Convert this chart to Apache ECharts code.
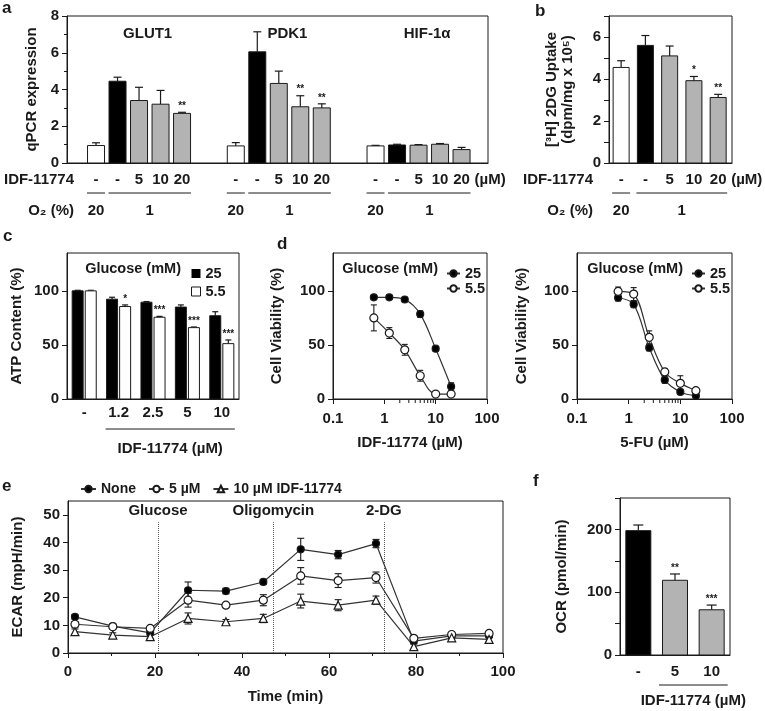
<!DOCTYPE html>
<html>
<head>
<meta charset="utf-8">
<title>IDF-11774 panels</title>
<script src="https://cdn.jsdelivr.net/npm/echarts@6.0.0/dist/echarts.min.js"></script>
<style>
  html, body { margin: 0; padding: 0; background: #fff; }
  #chart { width: 765px; height: 711px; }
</style>
</head>
<body>
<div id="chart"></div>
<script>
// ---- a: qPCR expression ----
const aGenes = ['GLUT1', 'PDK1', 'HIF-1α'];
const aDoses = ['-', '-', '5', '10', '20'];
const glut1Mean = [0.95, 4.45, 3.4, 3.2, 2.7];
const glut1Err = [0.15, 0.22, 0.72, 0.75, 0.06];
const glut1Sig = ['', '', '', '', '**'];
const pdk1Mean = [0.93, 6.05, 4.33, 3.06, 3.0];
const pdk1Err = [0.18, 1.09, 0.67, 0.6, 0.22];
const pdk1Sig = ['', '', '', '**', '**'];
const hifMean = [0.93, 0.98, 0.97, 1.02, 0.73];
const hifErr = [0.03, 0.04, 0.03, 0.04, 0.12];
const hifSig = ['', '', '', '', ''];

// ---- b: 2DG uptake ----
const bDoses = ['-', '-', '5', '10', '20'];
const bMean = [4.55, 5.6, 5.1, 3.92, 3.12];
const bErr = [0.32, 0.47, 0.47, 0.2, 0.15];
const bSig = ['', '', '', '*', '**'];

// O2 rows (a and b)
const o2Single = '20';
const o2Group = '1';

// ---- c: ATP content ----
const cDoses = ['-', '1.2', '2.5', '5', '10'];
const c25Mean = [100, 92.3, 89.5, 85, 77];
const c25Err = [0.5, 1.8, 0.6, 2, 3.7];
const c55Mean = [100, 85.5, 75.6, 66, 51.2];
const c55Err = [0.5, 1.5, 0.8, 0.6, 3.4];
const c55Sig = ['', '*', '***', '***', '***'];

// ---- d: cell viability ----
const dConc = [0.625, 1.25, 2.5, 5, 10, 20];
const dIdf25 = [94, 94, 92, 78.5, 46.5, 11.5];
const dIdf25Err = [2, 2, 2, 3, 2, 3.5];
const dIdf55 = [75, 61, 45.5, 21.5, 4.6, 4.6];
const dIdf55Err = [12, 5, 5, 5, 1, 1];
const dFu25 = [93.6, 87.5, 47.5, 17.6, 6.5, 3];
const dFu25Err = [3, 3, 3, 3, 2, 1];
const dFu55 = [99.5, 97, 57, 25, 14.5, 7.7];
const dFu55Err = [4, 6, 6, 3, 7, 2];
const logMinor = [2, 3, 4, 5, 6, 7, 8, 9];

// ---- e: ECAR ----
const eTime = [1.6, 10.3, 18.9, 27.6, 36.3, 44.9, 53.5, 62.1, 70.8, 79.5, 88.2, 96.8];
const eNone = [13.1, 9.7, 7.3, 22.7, 22.4, 25.7, 37.5, 35.6, 39.6, 4.3, 6.2, 6.2];
const eNoneErr = [0.8, 0.8, 0.8, 3, 1, 0.8, 4, 1.5, 1.5, 1, 0.5, 0.5];
const e5 = [10.4, 9.5, 8.9, 19.1, 17.3, 19.1, 27.9, 26.2, 27.3, 5.3, 6.7, 7.1];
const e5Err = [1, 0.8, 0.5, 2.5, 0.8, 2, 3, 2.5, 2, 0.8, 0.5, 0.5];
const e10 = [7.7, 6.5, 5.9, 12.5, 11.3, 12.5, 18.8, 17.3, 19.1, 2.3, 5.5, 4.9];
const e10Err = [1, 0.8, 0.6, 2, 0.8, 1.5, 2.5, 2, 1.5, 1, 0.5, 0.8];
const eInject = ['Glucose', 'Oligomycin', '2-DG'];
const eInjectTime = [20.7, 47.2, 72.6];

// ---- f: OCR ----
const fDoses = ['-', '5', '10'];
const fMean = [198, 119, 72];
const fErr = [9, 10, 7.5];
const fSig = ['', '**', '***'];

// ---- styles ----
const FONT = '"Liberation Sans", Arial, sans-serif';
const INK = '#1a1a1a';
const LINE = '#333';
const GREY = '#b3b3b3';
const F15 = 'bold 15px ' + FONT;
const F14 = 'bold 14.5px ' + FONT;
const txt = { color: INK, fontSize: 15, fontWeight: 'bold', fontFamily: FONT };
const treatFill = ['#fff', '#000', GREY, GREY, GREY];

// bar slots in panel a: 5 bars per gene, 6.5 slots between gene groups
const aPitch = 6.5;
const aX = [], aMeans = [], aErrs = [], aSigs = [], aFills = [], aDoseTxt = [];
[[glut1Mean, glut1Err, glut1Sig], [pdk1Mean, pdk1Err, pdk1Sig], [hifMean, hifErr, hifSig]].forEach((g, gi) => {
  g[0].forEach((v, i) => {
    aX.push(gi * aPitch + i);
    aMeans.push(v); aErrs.push(g[1][i]); aSigs.push(g[2][i]);
    aFills.push(treatFill[i]); aDoseTxt.push(aDoses[i]);
  });
});
const aSpans = [];
aGenes.forEach((g, gi) => {
  aSpans.push([gi * aPitch, gi * aPitch, o2Single]);
  aSpans.push([gi * aPitch + 1, gi * aPitch + 4, o2Group]);
});
const idx5 = [0, 1, 2, 3, 4];

// ---- series helpers ----
function upBars(axis, name, xs, means, errs, fills, sigs, barW, capW) {
  return {
    type: 'custom', name, xAxisIndex: axis, yAxisIndex: axis, clip: false, z: 3,
    data: xs.map((x, i) => [x, means[i], errs[i]]),
    renderItem(p, api) {
      const i = p.dataIndex;
      const x = api.value(0), m = api.value(1), e = api.value(2);
      const base = api.coord([x, 0]), top = api.coord([x, m]), hi = api.coord([x, m + e]);
      const fill = Array.isArray(fills) ? fills[i] : fills;
      return { type: 'group', children: [
        { type: 'line', shape: { x1: top[0], y1: top[1], x2: hi[0], y2: hi[1] }, style: { stroke: INK, lineWidth: 1.2 } },
        { type: 'line', shape: { x1: hi[0] - capW, y1: hi[1], x2: hi[0] + capW, y2: hi[1] }, style: { stroke: INK, lineWidth: 1.2 } },
        { type: 'rect', shape: { x: base[0] - barW / 2, y: top[1], width: barW, height: base[1] - top[1] }, style: { fill, stroke: INK, lineWidth: 1 } },
        { type: 'text', x: hi[0], y: hi[1] - 1, style: { text: sigs ? sigs[i] : '', fill: INK, font: 'bold 10px ' + FONT, align: 'center', verticalAlign: 'bottom' } }
      ] };
    }
  };
}

function errBars(axis, xs, ys, errs, capW) {
  return {
    type: 'custom', xAxisIndex: axis, yAxisIndex: axis, clip: false, silent: true, z: 2,
    data: xs.map((x, i) => [x, ys[i], errs[i]]),
    renderItem(p, api) {
      const x = api.value(0), y = api.value(1), e = api.value(2);
      const lo = api.coord([x, y - e]), hi = api.coord([x, y + e]);
      const st = { stroke: INK, lineWidth: 1.1 };
      return { type: 'group', children: [
        { type: 'line', shape: { x1: lo[0], y1: lo[1], x2: hi[0], y2: hi[1] }, style: st },
        { type: 'line', shape: { x1: lo[0] - capW, y1: lo[1], x2: lo[0] + capW, y2: lo[1] }, style: st },
        { type: 'line', shape: { x1: hi[0] - capW, y1: hi[1], x2: hi[0] + capW, y2: hi[1] }, style: st }
      ] };
    }
  };
}

function curve(axis, name, xs, ys, symbol, size, fill, smooth) {
  return {
    type: 'line', name, xAxisIndex: axis, yAxisIndex: axis, z: 4, smooth,
    data: xs.map((x, i) => [x, ys[i]]),
    symbol, symbolSize: size, showAllSymbol: true,
    lineStyle: { color: LINE, width: 1.2 },
    itemStyle: { color: fill, borderColor: INK, borderWidth: 1.2 }
  };
}

// text placed at data points, shifted in px
function textAt(axis, pts, texts, dx, dy, align, font) {
  return {
    type: 'custom', xAxisIndex: axis, yAxisIndex: axis, clip: false, silent: true, z: 5,
    data: pts,
    renderItem(p, api) {
      const c = api.coord([api.value(0), api.value(1)]);
      return { type: 'text', x: c[0] + dx, y: c[1] + dy,
        style: { text: texts[p.dataIndex], fill: INK, font: font || F15, align: align || 'center', verticalAlign: 'middle' } };
    }
  };
}

// underline below a run of bars with a caption under it
function spans(axis, list, lineDy, textDy, ext) {
  return {
    type: 'custom', xAxisIndex: axis, yAxisIndex: axis, clip: false, silent: true, z: 5,
    data: list.map(s => [s[0], s[1]]),
    renderItem(p, api) {
      const a = api.coord([api.value(0), 0]), b = api.coord([api.value(1), 0]);
      return { type: 'group', children: [
        { type: 'line', shape: { x1: a[0] - ext, y1: a[1] + lineDy, x2: b[0] + ext, y2: a[1] + lineDy }, style: { stroke: INK, lineWidth: 1 } },
        { type: 'text', x: (a[0] + b[0]) / 2, y: a[1] + textDy,
          style: { text: list[p.dataIndex][2], fill: INK, font: F15, align: 'center', verticalAlign: 'middle' } }
      ] };
    }
  };
}

function minorTicks(axis, vals) {
  return {
    type: 'custom', xAxisIndex: axis, yAxisIndex: axis, clip: false, silent: true,
    data: vals.map(v => [v, 0]),
    renderItem(p, api) {
      const c = api.coord([api.value(0), 0]);
      return { type: 'line', shape: { x1: c[0], y1: c[1], x2: c[0], y2: c[1] + 4 }, style: { stroke: INK, lineWidth: 1 } };
    }
  };
}

// ---- axes ----
function xHidden(grid, min, max) {
  return { type: 'value', gridIndex: grid, min, max,
    axisLine: { show: true, onZero: false, lineStyle: { color: INK } },
    axisTick: { show: false }, axisLabel: { show: false }, splitLine: { show: false } };
}
function xLog(grid, name) {
  return { type: 'log', gridIndex: grid, logBase: 10, min: 0.1, max: 100,
    name, nameLocation: 'middle', nameGap: 36, nameTextStyle: txt,
    axisLine: { show: true, onZero: false, lineStyle: { color: INK } },
    axisTick: { show: true, length: 5, lineStyle: { color: INK } },
    axisLabel: { ...txt, margin: 12, formatter: v => String(+(+v).toPrecision(2)) },
    splitLine: { show: false } };
}
function yBase(grid, name, gap) {
  return { type: 'value', gridIndex: grid, name, nameLocation: 'middle', nameGap: gap,
    nameTextStyle: { ...txt, lineHeight: 16 },
    axisLine: { show: true, onZero: false, lineStyle: { color: INK } },
    axisTick: { show: true, length: 5, lineStyle: { color: INK } },
    axisLabel: { ...txt, margin: 8 },
    splitLine: { show: false } };
}

const yA = yBase(0, 'qPCR expression', 26);
Object.assign(yA, { min: 0, max: 8, interval: 2, minorTick: { show: true, splitNumber: 2, length: 3, lineStyle: { color: INK } } });
const yB = yBase(1, '[³H] 2DG Uptake\n(dpm/mg x 10⁵)', 33);
Object.assign(yB, { min: 0, max: 7, interval: 1 });
yB.axisLabel.formatter = v => (v % 2 === 0 ? String(v) : '');
const yC = yBase(2, 'ATP Content (%)', 42);
Object.assign(yC, { min: 0, max: 135 });
yC.axisLabel.customValues = [0, 50, 100]; yC.axisTick.customValues = [0, 50, 100];
const yD1 = yBase(3, 'Cell Viability (%)', 48);
Object.assign(yD1, { min: 0, max: 135 });
yD1.axisLabel.customValues = [0, 50, 100]; yD1.axisTick.customValues = [0, 50, 100];
const yD2 = yBase(4, 'Cell Viability (%)', 47);
Object.assign(yD2, { min: 0, max: 135 });
yD2.axisLabel.customValues = [0, 50, 100]; yD2.axisTick.customValues = [0, 50, 100];
const yE = yBase(5, 'ECAR (mpH/min)', 42);
Object.assign(yE, { min: 0, max: 55 });
yE.axisLabel.customValues = [0, 10, 20, 30, 40, 50]; yE.axisTick.customValues = [0, 10, 20, 30, 40, 50];
const yF = yBase(6, 'OCR (pmol/min)', 50);
Object.assign(yF, { min: 0, max: 250, interval: 50 });
yF.axisLabel.formatter = v => (v % 100 === 0 && v < 250 ? String(v) : '');

const xE = { type: 'value', gridIndex: 5, min: 0, max: 100, interval: 20,
  name: 'Time (min)', nameLocation: 'middle', nameGap: 36, nameTextStyle: txt,
  axisLine: { show: true, onZero: false, lineStyle: { color: INK } },
  axisTick: { show: true, length: 5, lineStyle: { color: INK } },
  minorTick: { show: true, splitNumber: 2, length: 3, lineStyle: { color: INK } },
  axisLabel: { ...txt, margin: 11 }, splitLine: { show: false } };

const box = { show: true, borderColor: INK, borderWidth: 1, containLabel: false };
const legendTxt = { ...txt, fontSize: 14.5 };
const eLegendTxt = { ...txt, fontSize: 14 };
const tag = n => n.split('|').pop();

const option = {
  animation: false,
  backgroundColor: '#fff',
  grid: [
    { ...box, left: 67, top: 16, width: 421, height: 147 },
    { ...box, left: 609, top: 16, width: 123, height: 147 },
    { ...box, left: 67, top: 253, width: 172, height: 146 },
    { ...box, left: 333, top: 253, width: 154, height: 146 },
    { ...box, left: 577, top: 253, width: 155, height: 146 },
    { ...box, left: 68, top: 501, width: 435, height: 152 },
    { ...box, left: 620, top: 498, width: 110, height: 157 }
  ],
  xAxis: [
    xHidden(0, -1.35, 18.23),
    xHidden(1, -0.5, 4.57),
    xHidden(2, -0.5, 4.5),
    xLog(3, 'IDF-11774 (µM)'),
    xLog(4, '5-FU (µM)'),
    xE,
    xHidden(6, -0.5, 2.5)
  ],
  yAxis: [yA, yB, yC, yD1, yD2, yE, yF],
  legend: [
    { data: [{ name: 'c|25', icon: 'rect', itemStyle: { color: '#000' } },
             { name: 'c|5.5', icon: 'rect', itemStyle: { color: '#fff', borderColor: INK, borderWidth: 1 } }],
      orient: 'vertical', left: 186, top: 261, itemWidth: 9, itemHeight: 9, itemGap: 3,
      formatter: tag, textStyle: legendTxt, selectedMode: false },
    { data: ['l|25', 'l|5.5'], orient: 'vertical', left: 441, top: 261, itemWidth: 13, itemHeight: 8, itemGap: 0,
      formatter: tag, textStyle: legendTxt, selectedMode: false },
    { data: ['r|25', 'r|5.5'], orient: 'vertical', left: 686, top: 261, itemWidth: 13, itemHeight: 8, itemGap: 0,
      formatter: tag, textStyle: legendTxt, selectedMode: false },
    { data: ['None', '5 µM', '10 µM IDF-11774'], left: 75, top: 477, itemWidth: 15, itemHeight: 8, itemGap: 12,
      textStyle: eLegendTxt, selectedMode: false }
  ],
  graphic: [
    ['a', 2, 9], ['b', 535, 12], ['c', 3, 237], ['d', 277, 245], ['e', 2, 487], ['f', 533, 482]
  ].map(l => ({ type: 'text', left: l[1], top: l[2] - 9, style: { text: l[0], font: 'bold 17px ' + FONT, fill: INK } }))
  .concat([
    [74, 180, 'IDF-11774', F15], [74, 211, 'O₂ (%)', F15], [593, 180, 'IDF-11774', F15], [593, 211, 'O₂ (%)', F15],
    [181, 269, 'Glucose (mM)', F14], [438, 269, 'Glucose (mM)', F14], [683, 269, 'Glucose (mM)', F14]
  ].map(t => ({ type: 'text', x: t[0], y: t[1], style: { text: t[2], font: t[3], fill: INK, align: 'right', verticalAlign: 'middle' } }))),
  series: [
    // a
    upBars(0, 'a', aX, aMeans, aErrs, aFills, aSigs, 17, 4),
    textAt(0, aX.map(x => [x, 0]), aDoseTxt, 0, 17),
    textAt(0, [[aX[aX.length - 1], 0]], ['(µM)'], 13, 17, 'left'),
    textAt(0, aGenes.map((g, gi) => [gi * aPitch + 2.4, 7.05]), aGenes, 0, 0),
    spans(0, aSpans, 30, 48, 9),
    // b
    upBars(1, 'b', idx5, bMean, bErr, treatFill, bSig, 16, 4),
    textAt(1, idx5.map(x => [x, 0]), bDoses, 0, 17),
    textAt(1, [[4, 0]], ['(µM)'], 13, 17, 'left'),
    spans(1, [[0, 0, o2Single], [1, 4, o2Group]], 30, 48, 9),
    // c
    upBars(2, 'c|25', idx5.map(i => i - 0.19), c25Mean, c25Err, '#000', null, 11, 3),
    upBars(2, 'c|5.5', idx5.map(i => i + 0.19), c55Mean, c55Err, '#fff', c55Sig, 11, 3),
    textAt(2, idx5.map(x => [x, 0]), cDoses, 0, 14),
    spans(2, [[1, 4, 'IDF-11774 (µM)']], 30, 50, 13),
    // d left
    minorTicks(3, logMinor),
    errBars(3, dConc, dIdf25, dIdf25Err, 3),
    errBars(3, dConc, dIdf55, dIdf55Err, 3),
    curve(3, 'l|25', dConc, dIdf25, 'circle', 7, '#000', 0.35),
    curve(3, 'l|5.5', dConc, dIdf55, 'circle', 8, '#fff', 0.35),
    // d right
    minorTicks(4, logMinor),
    errBars(4, dConc, dFu25, dFu25Err, 3),
    errBars(4, dConc, dFu55, dFu55Err, 3),
    curve(4, 'r|25', dConc, dFu25, 'circle', 7, '#000', 0.35),
    curve(4, 'r|5.5', dConc, dFu55, 'circle', 8, '#fff', 0.35),
    // e
    errBars(5, eTime, eNone, eNoneErr, 3.5),
    errBars(5, eTime, e5, e5Err, 3.5),
    errBars(5, eTime, e10, e10Err, 3.5),
    Object.assign(curve(5, 'None', eTime, eNone, 'circle', 7, '#000', false), {
      markLine: {
        silent: true, symbol: 'none',
        lineStyle: { type: 'dotted', color: '#555', width: 1 },
        label: { show: true, position: 'end', formatter: '{b}', distance: 4, ...txt },
        data: eInjectTime.map((t, i) => [{ name: eInject[i], coord: [t, 0] }, { coord: [t, 47.3] }])
      }
    }),
    curve(5, '5 µM', eTime, e5, 'circle', 8, '#fff', false),
    curve(5, '10 µM IDF-11774', eTime, e10, 'triangle', 8, '#fff', false),
    // f
    upBars(6, 'f', [0, 1, 2], fMean, fErr, ['#000', GREY, GREY], fSig, 25, 5),
    textAt(6, [[0, 0], [1, 0], [2, 0]], fDoses, 0, 17),
    spans(6, [[1, 2, 'IDF-11774 (µM)']], 30, 46, 16)
  ]
};

const chart = echarts.init(document.getElementById('chart'), null, { renderer: 'canvas' });
chart.setOption(option);
window.addEventListener('resize', () => chart.resize());
</script>
</body>
</html>
